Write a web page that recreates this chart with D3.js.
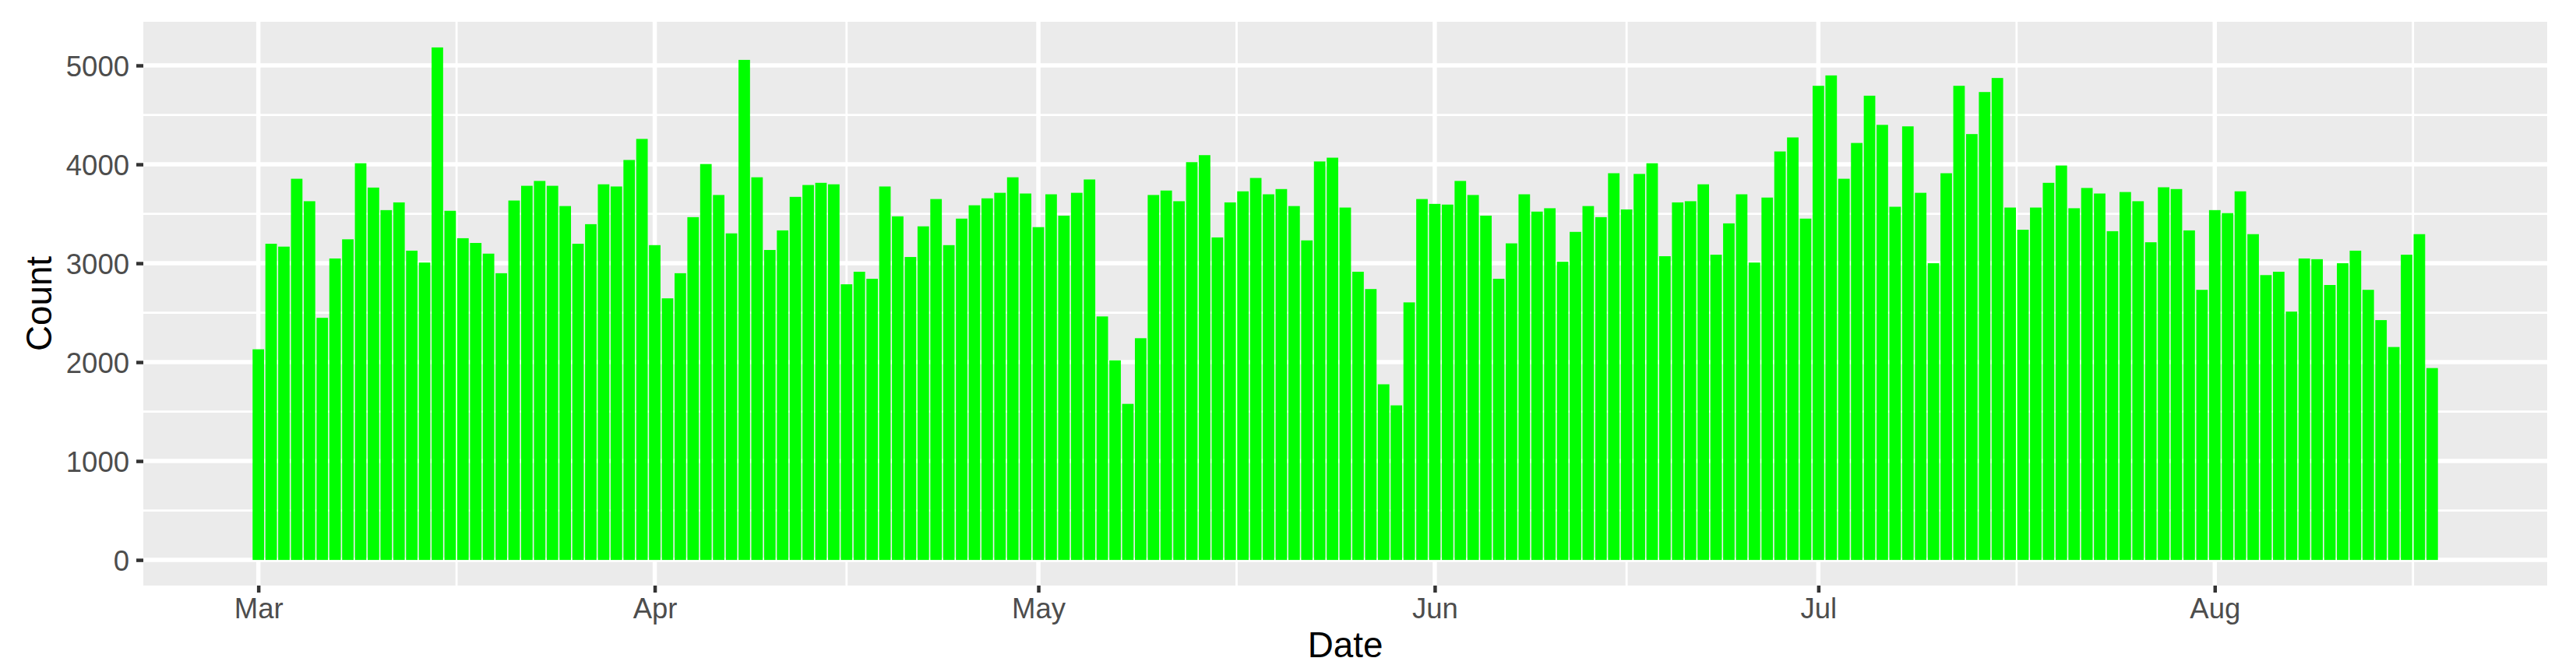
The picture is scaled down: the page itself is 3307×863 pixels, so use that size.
<!DOCTYPE html>
<html>
<head>
<meta charset="utf-8">
<script src="https://cdn.jsdelivr.net/npm/d3@7"></script>
<style>
  html, body { margin: 0; padding: 0; background: #ffffff; }
  svg { display: block; font-family: "Liberation Sans", Arial, sans-serif; }
</style>
</head>
<body>
<svg id="chart" width="3307" height="863"></svg>
<script>
// ---- Data: daily counts ----
const year = 2021;
const marCounts = [2130, 3197, 3168, 3854, 3627, 2448, 3048, 3242, 4011, 3765, 3537, 3615, 3127, 3007, 5182, 3530, 3253, 3205, 3097, 2899, 3634, 3783, 3832, 3783, 3578, 3197, 3395, 3798, 3776, 4044, 4257];
const aprCounts = [3183, 2645, 2899, 3466, 4003, 3690, 3302, 5056, 3869, 3134, 3332, 3671, 3791, 3813, 3798, 2787, 2914, 2843, 3776, 3474, 3063, 3373, 3649, 3183, 3451, 3586, 3656, 3712, 3869, 3705];
const mayCounts = [3365, 3697, 3481, 3712, 3847, 2462, 2018, 1578, 2242, 3690, 3735, 3627, 4022, 4093, 3261, 3615, 3727, 3862, 3697, 3750, 3578, 3231, 4029, 4067, 3563, 2914, 2739, 1776, 1563, 2604, 3649];
const junCounts = [3600, 3593, 3832, 3690, 3481, 2843, 3201, 3697, 3522, 3556, 3015, 3317, 3578, 3466, 3910, 3544, 3903, 4011, 3071, 3615, 3627, 3798, 3086, 3403, 3697, 3007, 3664, 4130, 4272, 3451];
const julCounts = [4794, 4899, 3854, 4216, 4694, 4399, 3571, 4384, 3712, 3000, 3910, 4794, 4306, 4731, 4873, 3563, 3339, 3563, 3813, 3988, 3556, 3761, 3705, 3324, 3720, 3627, 3212, 3768, 3750, 3332, 2731];
const augCounts = [3537, 3507, 3727, 3294, 2880, 2914, 2511, 3048, 3041, 2780, 3000, 3127, 2731, 2425, 2153, 3086, 3294, 1940];

const monthSeries = [
  { month: 2, counts: marCounts },
  { month: 3, counts: aprCounts },
  { month: 4, counts: mayCounts },
  { month: 5, counts: junCounts },
  { month: 6, counts: julCounts },
  { month: 7, counts: augCounts }
];
const xTickLabels = ["Mar", "Apr", "May", "Jun", "Jul", "Aug"];
const yTicks = [0, 1000, 2000, 3000, 4000, 5000];
const xTitle = "Date";
const yTitle = "Count";

// Build table of records
const data = [];
monthSeries.forEach(ms => {
  ms.counts.forEach((c, i) => data.push({ date: new Date(Date.UTC(year, ms.month, i + 1)), count: c }));
});

// ---- Layout ----
const svg = d3.select("#chart");
const panel = { left: 184, right: 3270, top: 28, bottom: 752 };
const DAY = 864e5;

const first = d3.min(data, d => d.date), last = d3.max(data, d => d.date);
const span = (last - first) + 0.9 * DAY;
const pad = 0.45 * DAY + 0.05 * span;
const x = d3.scaleUtc()
  .domain([new Date(+first - pad), new Date(+last + pad)])
  .range([panel.left, panel.right]);

const ymax = d3.max(data, d => d.count);
const y = d3.scaleLinear()
  .domain([-0.05 * ymax, 1.05 * ymax])
  .range([panel.bottom, panel.top]);

const dayPx = x(new Date(+first + DAY)) - x(first);
const barW = 0.9 * dayPx;

// panel background
svg.append("rect")
  .attr("x", panel.left).attr("y", panel.top)
  .attr("width", panel.right - panel.left).attr("height", panel.bottom - panel.top)
  .attr("fill", "#EBEBEB");

// grid lines
const majorX = xTickLabels.map((_, i) => new Date(Date.UTC(year, 2 + i, 1)));
const allMonths = d3.range(1, 9).map(m => new Date(Date.UTC(year, m, 1)));
const minorX = d3.pairs(allMonths).map(([a, b]) => new Date((+a + +b) / 2))
  .filter(d => x(d) > panel.left && x(d) < panel.right);
const minorY = d3.pairs(yTicks).map(([a, b]) => (a + b) / 2);

const grid = svg.append("g");
grid.selectAll(".ymin").data(minorY).join("line")
  .attr("x1", panel.left).attr("x2", panel.right)
  .attr("y1", d => y(d)).attr("y2", d => y(d))
  .attr("stroke", "#fff").attr("stroke-width", 2.8);
grid.selectAll(".xmin").data(minorX).join("line")
  .attr("y1", panel.top).attr("y2", panel.bottom)
  .attr("x1", d => x(d)).attr("x2", d => x(d))
  .attr("stroke", "#fff").attr("stroke-width", 2.8);
grid.selectAll(".ymaj").data(yTicks).join("line")
  .attr("x1", panel.left).attr("x2", panel.right)
  .attr("y1", d => y(d)).attr("y2", d => y(d))
  .attr("stroke", "#fff").attr("stroke-width", 5.5);
grid.selectAll(".xmaj").data(majorX).join("line")
  .attr("y1", panel.top).attr("y2", panel.bottom)
  .attr("x1", d => x(d)).attr("x2", d => x(d))
  .attr("stroke", "#fff").attr("stroke-width", 5.5);

// bars
svg.append("g").selectAll("rect").data(data).join("rect")
  .attr("x", d => x(d.date) - barW / 2)
  .attr("width", barW)
  .attr("y", d => y(d.count))
  .attr("height", d => y(0) - y(d.count))
  .attr("fill", "#00FF00");

// axes
const xAxis = d3.axisBottom(x)
  .tickValues(majorX)
  .tickFormat((d, i) => xTickLabels[i])
  .tickSize(9).tickPadding(5);
const gx = svg.append("g").attr("transform", `translate(0,${panel.bottom})`).call(xAxis);
gx.select(".domain").remove();
gx.selectAll(".tick line").attr("stroke", "#333333").attr("stroke-width", 4.5);
gx.selectAll(".tick text")
  .attr("fill", "#4D4D4D")
  .attr("font-size", 36.5)
  .attr("font-family", "Liberation Sans, Arial, sans-serif")
  .attr("dy", null).attr("y", 42)
  .attr("dominant-baseline", "alphabetic");

const yAxis = d3.axisLeft(y)
  .tickValues(yTicks)
  .tickFormat(d3.format("d"))
  .tickSize(9).tickPadding(9);
const gy = svg.append("g").attr("transform", `translate(${panel.left},0)`).call(yAxis);
gy.select(".domain").remove();
gy.selectAll(".tick line").attr("stroke", "#333333").attr("stroke-width", 4.5);
gy.selectAll(".tick text")
  .attr("fill", "#4D4D4D")
  .attr("font-size", 36.5)
  .attr("font-family", "Liberation Sans, Arial, sans-serif")
  .attr("dy", "0.36em");

// titles
svg.append("text")
  .attr("x", (panel.left + panel.right) / 2).attr("y", 844)
  .attr("text-anchor", "middle")
  .attr("font-size", 45.8).attr("fill", "#000")
  .text(xTitle);
svg.append("text")
  .attr("transform", `translate(66,${(panel.top + panel.bottom) / 2}) rotate(-90)`)
  .attr("text-anchor", "middle")
  .attr("font-size", 45.8).attr("fill", "#000")
  .text(yTitle);
</script>
</body>
</html>
